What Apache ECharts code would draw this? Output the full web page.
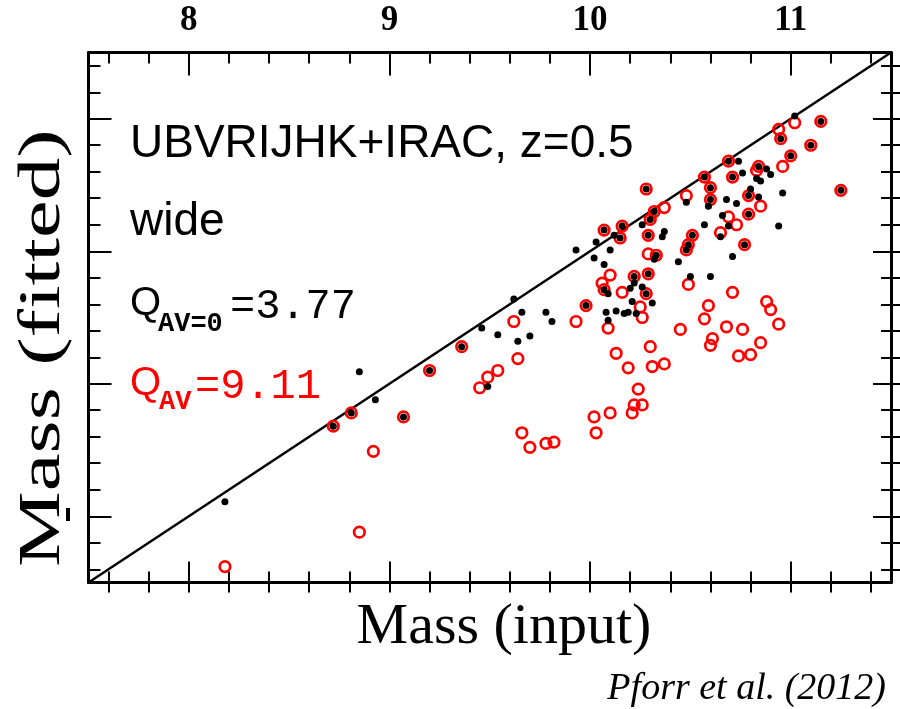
<!DOCTYPE html>
<html>
<head>
<meta charset="utf-8">
<title>Mass (fitted) vs Mass (input)</title>
<script src="https://cdn.jsdelivr.net/npm/echarts@6/dist/echarts.min.js"></script>
<style>
  html, body { margin: 0; padding: 0; background: #fff; }
  #chart { width: 900px; height: 709px; }
</style>
</head>
<body>
<div id="chart"></div>
<script>
// axis range (log stellar mass) and tick marks
var axisMin = 7.5
var axisMax = 11.5
var majorTicks = [8, 9, 10, 11]
var minorTicks = [7.6, 7.8, 8.2, 8.4, 8.6, 8.8, 9.2, 9.4, 9.6, 9.8, 10.2, 10.4, 10.6, 10.8, 11.2, 11.4]

// [input, fitted] - points where both fits land together (red ring with black dot)
var bothPts = [
  [8.72, 8.68], [8.81, 8.78], [9.07, 8.75], [9.20, 9.10], [9.36, 9.28],
  [9.98, 9.59], [10.07, 9.71], [10.28, 9.68], [10.22, 9.81], [10.29, 9.83],
  [10.33, 9.97], [10.07, 10.16], [10.16, 10.19], [10.15, 10.10], [10.29, 10.12],
  [10.30, 10.24], [10.32, 10.30], [10.28, 10.47], [10.48, 10.01], [10.49, 10.05],
  [10.51, 10.12], [10.77, 10.05], [10.79, 10.28], [10.60, 10.39], [10.60, 10.48],
  [10.57, 10.56], [10.79, 10.42], [10.71, 10.56], [10.69, 10.68], [10.84, 10.64],
  [11.00, 10.72], [10.95, 10.85], [11.10, 10.80], [11.15, 10.98], [11.25, 10.46]
]

// fit with AV=0 (black dots)
var blackOnly = [
  [8.18, 8.11], [8.85, 9.09], [8.93, 8.88], [9.46, 9.42], [9.54, 9.37],
  [9.64, 9.32], [9.70, 9.36], [9.62, 9.64], [9.66, 9.54], [9.78, 9.54],
  [9.81, 9.47], [9.49, 8.98], [10.08, 9.54], [10.09, 9.48], [10.13, 9.55],
  [10.17, 9.53], [10.19, 9.54], [10.23, 9.53], [10.21, 9.62], [10.31, 9.61],
  [10.09, 9.68], [10.20, 9.72], [10.22, 9.76], [10.26, 9.73], [10.32, 9.94],
  [10.07, 9.90], [10.02, 9.95], [9.93, 10.01], [10.10, 10.01], [10.03, 10.07],
  [10.12, 10.12], [10.26, 10.20], [10.48, 10.37], [10.37, 10.15], [10.36, 10.11],
  [10.44, 9.92], [10.50, 9.81], [10.60, 9.81], [10.65, 10.11], [10.71, 9.96],
  [10.57, 10.20], [10.69, 10.19], [10.66, 10.27], [10.59, 10.34], [10.68, 10.39],
  [10.73, 10.36], [10.80, 10.47], [10.84, 10.41], [10.96, 10.44], [10.94, 10.19],
  [10.74, 10.68], [10.76, 10.59], [10.88, 10.62], [10.90, 10.58], [10.83, 10.55],
  [10.85, 10.53], [11.02, 11.02]
]

// fit with free AV (red open circles)
var redOnly = [
  [8.18, 7.62], [8.85, 7.88], [8.92, 8.49], [9.45, 8.97], [9.49, 9.05],
  [9.54, 9.10], [9.64, 9.19], [9.62, 9.47], [9.66, 8.63], [9.70, 8.52],
  [9.78, 8.55], [9.82, 8.56], [9.93, 9.47], [10.09, 9.42], [10.13, 9.23],
  [10.19, 9.12], [10.30, 9.28], [10.31, 9.13], [10.37, 9.15], [10.24, 8.96],
  [10.22, 8.84], [10.26, 8.84], [10.21, 8.78], [10.02, 8.75], [10.10, 8.78],
  [10.03, 8.63], [10.26, 9.50], [10.25, 9.58], [10.16, 9.69], [10.06, 9.76],
  [10.10, 9.82], [10.29, 9.98], [10.37, 10.33], [10.48, 10.42], [10.49, 9.75],
  [10.45, 9.41], [10.71, 9.69], [10.59, 9.59], [10.57, 9.49], [10.68, 9.43],
  [10.76, 9.41], [10.88, 9.62], [10.90, 9.56], [10.94, 9.45], [10.85, 9.31],
  [10.74, 9.21], [10.80, 9.22], [10.60, 9.29], [10.61, 9.34], [10.65, 10.14],
  [10.69, 10.26], [10.73, 10.20], [10.85, 10.34], [10.83, 10.61], [10.96, 10.64],
  [10.94, 10.92], [11.02, 10.97]
]

var oneToOne = [[axisMin, axisMin], [axisMax, axisMax]]

var allTicks = majorTicks.concat(minorTicks)
var tickStyle = { color: '#000', width: 2 }

// one frame side: line (optional) + a set of ticks
function side (position, values, len, inside, withLine) {
  return {
    type: 'value',
    position: position,
    min: axisMin,
    max: axisMax,
    axisLine: { show: withLine, onZero: false, lineStyle: { color: '#000', width: 3 } },
    axisTick: { show: true, inside: inside, length: len, customValues: values, lineStyle: tickStyle },
    axisLabel: { show: false },
    splitLine: { show: false }
  }
}

var topAxis = side('top', majorTicks, 23, true, true)
topAxis.axisLabel = {
  show: true,
  customValues: majorTicks,
  margin: 14,
  color: '#000',
  fontSize: 35,
  fontWeight: 'bold',
  fontFamily: 'Liberation Serif'
}

var option = {
  animation: false,
  backgroundColor: '#fff',
  grid: { left: 88.5, right: 9, top: 52.5, bottom: 126.5, outerBoundsMode: 'none' },
  xAxis: [
    topAxis,
    side('top', minorTicks, 11, true, false),
    side('bottom', majorTicks, 21, true, true),
    side('bottom', minorTicks, 11, true, false),
    side('bottom', allTicks, 10, false, false)
  ],
  yAxis: [
    side('left', majorTicks, 23, true, true),
    side('left', minorTicks, 12, true, false),
    side('right', majorTicks, 18, true, true),
    side('right', minorTicks, 10, true, false),
    side('right', allTicks, 9, false, false)
  ],
  series: [
    {
      type: 'line',
      xAxisIndex: 2,
      yAxisIndex: 0,
      data: oneToOne,
      symbol: 'none',
      silent: true,
      z: 1,
      lineStyle: { color: '#000', width: 2.5 }
    },
    {
      name: 'Q_AV',
      type: 'scatter',
      xAxisIndex: 2,
      yAxisIndex: 0,
      data: redOnly.concat(bothPts),
      symbol: 'circle',
      symbolSize: 10.5,
      z: 2,
      itemStyle: { color: 'rgba(255,255,255,0)', borderColor: '#ff0000', borderWidth: 2.7, opacity: 1 }
    },
    {
      name: 'Q_AV=0',
      type: 'scatter',
      xAxisIndex: 2,
      yAxisIndex: 0,
      data: blackOnly.concat(bothPts),
      symbol: 'circle',
      symbolSize: 7,
      z: 3,
      itemStyle: { color: '#000', opacity: 1 }
    }
  ],
  graphic: [
    { type: 'text', x: 130, y: 144, style: { text: 'UBVRIJHK+IRAC, z=0.5', font: '46px "Liberation Sans"', fill: '#000', textVerticalAlign: 'middle' } },
    { type: 'text', x: 130, y: 222, style: { text: 'wide', font: '46px "Liberation Sans"', fill: '#000', textVerticalAlign: 'middle' } },
    // black Q line
    { type: 'text', x: 130, y: 304, style: { text: 'Q', font: '40px "Liberation Sans"', fill: '#000', textVerticalAlign: 'middle' } },
    { type: 'text', x: 158, y: 324.7, style: { text: 'AV=0', font: 'bold 27px "Liberation Mono"', fill: '#000', textVerticalAlign: 'middle' } },
    { type: 'text', x: 230, y: 306.7, style: { text: '=3.77', font: '42px "Liberation Mono"', fill: '#000', textVerticalAlign: 'middle' } },
    // red Q line
    { type: 'text', x: 130, y: 384, style: { text: 'Q', font: '40px "Liberation Sans"', fill: '#ff0000', textVerticalAlign: 'middle' } },
    { type: 'text', x: 159, y: 402.7, style: { text: 'AV', font: 'bold 27px "Liberation Mono"', fill: '#ff0000', textVerticalAlign: 'middle' } },
    { type: 'text', x: 195, y: 386.7, style: { text: '=9.11', font: '42px "Liberation Mono"', fill: '#ff0000', textVerticalAlign: 'middle' } },
    // axis titles and credit
    { type: 'text', x: 504, y: 627.7, style: { text: 'Mass (input)', font: '58px "Liberation Serif"', fill: '#000', textAlign: 'center', textVerticalAlign: 'middle' } },
    { type: 'text', x: 43, y: 567, rotation: Math.PI / 2, scaleX: 1.42, style: { text: 'Mass (fitted)', font: '60px "Liberation Serif"', fill: '#000', textAlign: 'left', textVerticalAlign: 'middle' } },
    { type: 'text', x: 886, y: 688.7, style: { text: 'Pforr et al. (2012)', font: 'italic 38px "Liberation Serif"', fill: '#000', textAlign: 'right', textVerticalAlign: 'middle' } },
    { type: 'rect', shape: { x: 66, y: 508, width: 4, height: 13 }, style: { fill: '#000' } }
  ]
}

var chart = echarts.init(document.getElementById('chart'))
chart.setOption(option)
</script>
</body>
</html>
